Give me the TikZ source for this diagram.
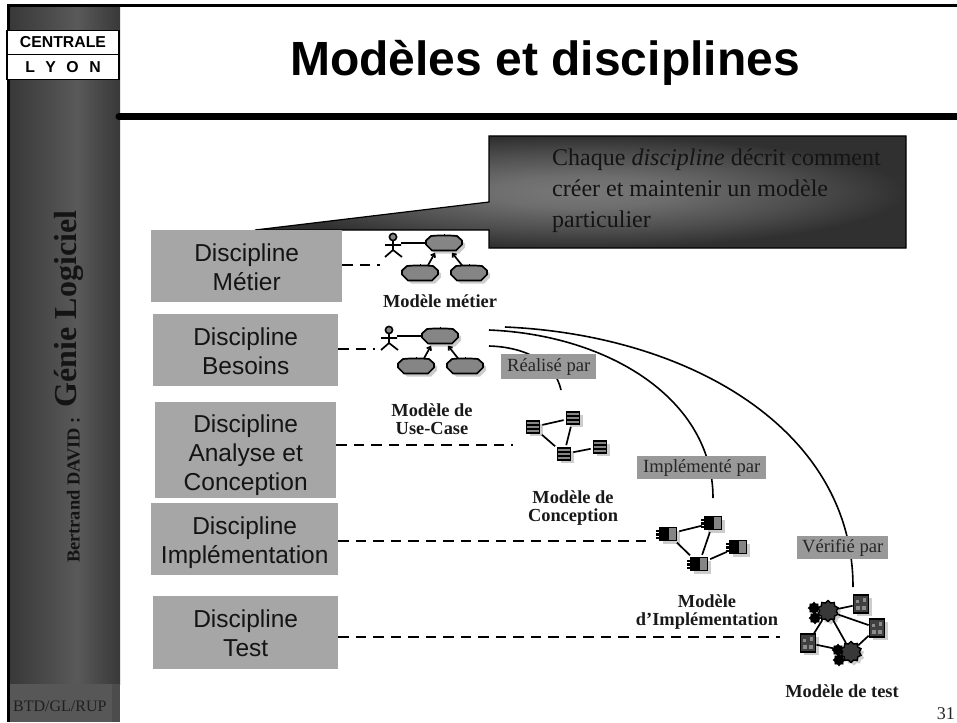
\documentclass[tikz,border=0pt]{standalone}
\usepackage{fontspec}
\setmainfont{Liberation Serif}
\setsansfont{Liberation Sans}
\usetikzlibrary{shapes.misc,shapes.geometric,shadows,calc,arrows.meta}
\definecolor{boxgrey}{HTML}{A6A6A6}
\definecolor{labgrey}{HTML}{999999}
\definecolor{icongrey}{HTML}{858585}
\definecolor{shadowgrey}{HTML}{CCCCCC}
\definecolor{calla}{HTML}{787878}
\definecolor{callb}{HTML}{6E6E6E}
\definecolor{callc}{HTML}{4E4E4E}
\definecolor{calld}{HTML}{303030}
\pgfdeclareradialshading{callshade}{\pgfpoint{0bp}{0bp}}{color(0bp)=(calla); color(7bp)=(callb); color(17bp)=(callc); color(25bp)=(calld); color(50bp)=(calld)}
\tikzset{
  disc/.style={fill=boxgrey,inner sep=0pt,align=center,font=\sffamily\fontsize{24.5}{29}\selectfont,anchor=north west,text=black!92},
  modlab/.style={font=\bfseries\fontsize{18.4}{18}\selectfont,align=center,inner sep=0pt,text=black!90},
  tag/.style={fill=labgrey,inner sep=0pt,font=\fontsize{18.6}{20}\selectfont,text=black!85,anchor=north west},
  dashl/.style={line width=1.6pt,dash pattern=on 10.5pt off 7pt},
  curvel/.style={line width=1.6pt},
  iconl/.style={line width=1.7pt},
  sh/.style={drop shadow={shadow xshift=3pt,shadow yshift=-3pt,fill=shadowgrey,opacity=1}},
  cloudn/.style={inner sep=0pt,minimum width=36pt,minimum height=15pt},
  classn/.style={rectangle,draw=black,line width=1.8pt,fill=icongrey,minimum width=13pt,minimum height=12pt,inner sep=0pt,sh,
    path picture={\draw[line width=1.8pt] ([yshift=2pt]path picture bounding box.west)--([yshift=2pt]path picture bounding box.east) ([yshift=-2pt]path picture bounding box.west)--([yshift=-2pt]path picture bounding box.east);}},
  compn/.style={rectangle,draw=black,line width=1.6pt,fill=icongrey,minimum width=17pt,minimum height=13pt,inner sep=0pt,sh,
    path picture={\fill[black] (path picture bounding box.south west) rectangle ([xshift=9pt]path picture bounding box.north west);},
    append after command={\pgfextra{\fill[black] ($(\tikzlastnode.west)+(-3,-4.5)$) rectangle ($(\tikzlastnode.west)+(1,-2)$);\fill[black] ($(\tikzlastnode.west)+(-3,-1)$) rectangle ($(\tikzlastnode.west)+(1,1.5)$);\fill[black] ($(\tikzlastnode.west)+(-3,2.5)$) rectangle ($(\tikzlastnode.west)+(1,5)$);}}},
  filen/.style={rectangle,draw=black,line width=1.8pt,fill=black!75,minimum width=15pt,minimum height=18pt,inner sep=0pt,sh,
    path picture={\fill[black!45] ([shift={(2pt,-3pt)}]path picture bounding box.north) rectangle ([shift={(5pt,-7pt)}]path picture bounding box.north);\fill[black!45] ([shift={(-5pt,-5pt)}]path picture bounding box.north) rectangle ([shift={(-2pt,-8pt)}]path picture bounding box.north);\fill[black!45] ([shift={(-5pt,-2pt)}]path picture bounding box.center) rectangle ([shift={(-1pt,-6pt)}]path picture bounding box.center);\fill[black!45] ([shift={(1pt,-2pt)}]path picture bounding box.center) rectangle ([shift={(5pt,-6pt)}]path picture bounding box.center);}},
  gearb/.style={star,star points=10,star point ratio=1.25,draw=black,line width=1.4pt,fill=black!78,minimum size=21pt,inner sep=0pt,sh},
  gears/.style={star,star points=8,star point ratio=1.35,draw=black,fill=black,minimum size=12pt,inner sep=0pt},
}
\newcommand{\cloudoutline}{(-18,-2.5) -- (-13,-7) -- (-6,-7.5) -- (6,-7.5) -- (13,-7) -- (18,-2.5) -- (18,1.5) -- (12,7.5) -- (-12,7.5) -- (-18,1.5) -- cycle}
\newcommand{\ucloud}[2]{%
  \node[cloudn] (#1) at (#2) {};
  \begin{scope}[shift={(#2)}]
    \fill[shadowgrey,shift={(3,3)}] \cloudoutline;
    \draw[line width=1.7pt,fill=icongrey,line join=miter] \cloudoutline;
    \draw[line width=1pt] (0,-9.5) -- (0,-7);
  \end{scope}}
\begin{document}
\begin{tikzpicture}[x=1pt,y=-1pt]
\useasboundingbox (0,0) rectangle (957,722);
% frame and side band
\shade[left color=black!78,right color=black!65] (10,7) rectangle (77,684);
\shade[left color=black!65,right color=black!78] (77,7) rectangle (120,684);
\fill[black!66] (10,684) rectangle (112,722);
\fill[black!70] (112,684) rectangle (120,722);
\fill[black] (7,4) rectangle (10,722);
\fill[black] (7,4) rectangle (957,7);
\draw[line width=7pt,line cap=round] (119,116.5) -- (957,116.5);
% logo
\node[draw=black,line width=1.5pt,fill=white,minimum width=112pt,minimum height=24pt,inner sep=0pt,font=\sffamily\bfseries\fontsize{15.8}{16}\selectfont] (logoa) at (63,42.5) {CENTRALE};
\node[draw=black,line width=1.5pt,fill=white,minimum width=112pt,minimum height=25pt,inner sep=0pt,font=\sffamily\bfseries\fontsize{15.8}{16}\selectfont] (logob) at (63,67) {L\hspace{10.5pt}Y\hspace{10.5pt}O\hspace{10.5pt}N};
% side text
\node[rotate=90,inner sep=0pt,font=\bfseries\fontsize{32}{34}\selectfont,text=black!92] (gl) at (69,309) {Génie Logiciel};
\node[rotate=90,inner sep=0pt,font=\bfseries\fontsize{18.4}{20}\selectfont,text=black!92,anchor=center] (bd) at (73.5,490) {Bertrand DAVID :};
\node[inner sep=0pt,anchor=west,font=\fontsize{16}{18}\selectfont,text=black!88] (btd) at (13,706) {BTD/GL/RUP};
\node[inner sep=0pt,anchor=base east,font=\fontsize{18}{20}\selectfont,text=black!85] (pg) at (955,719) {31};
% title
\node[inner sep=0pt,font=\sffamily\bfseries\fontsize{48}{52}\selectfont] (title) at (545,63) {Modèles et disciplines};
% callout
\path[draw=black,line width=1.2pt,shading=callshade]
 (489,136) -- (906,136) -- (906,248) -- (489,248) -- (489,230) -- (255,230) -- (489,202) -- cycle;
\node[inner sep=0pt,anchor=north west,align=left,font=\fontsize{24}{31}\selectfont,text=black!92] (co) at (552,148.5) {Chaque \textit{discipline} décrit comment\\créer et maintenir un modèle\\particulier};
% discipline boxes
\node[disc,minimum width=191pt,minimum height=72pt] (m) at (151,230) {\rule{0pt}{19.5pt}Discipline\\Métier};
\node[disc,minimum width=185pt,minimum height=72pt] (b) at (153,314) {\rule{0pt}{19.5pt}Discipline\\Besoins};
\node[disc,minimum width=181pt,minimum height=96pt] (a) at (155,402) {\rule{0pt}{27pt}Discipline\\Analyse et\\Conception};
\node[disc,minimum width=187pt,minimum height=72pt] (i) at (151,503) {\rule{0pt}{24pt}Discipline\\Implémentation};
\node[disc,minimum width=185pt,minimum height=73pt] (t) at (153,596) {\rule{0pt}{19.5pt}Discipline\\Test};
% end points of the dashed lines
\coordinate (dm) at (380,265);
\coordinate (db) at (375,349);
\coordinate (da) at (513,445);
\coordinate (di) at (650,541);
\coordinate (dt) at (780,637);
\draw[dashl] (m.east |- dm) -- (dm);
\draw[dashl] (b.east |- db) -- (db);
\draw[dashl] (a.east |- da) -- (da);
\draw[dashl] (i.east |- di) -- (di);
\draw[dashl] (t.east |- dt) -- (dt);
% use case models
\foreach \pfx/\dx/\dy in {p/0/0,q/-4/93}{
 \begin{scope}[shift={(\dx,\dy)}]
  \ucloud{\pfx c}{444,243}
  \ucloud{\pfx l}{420,273}
  \ucloud{\pfx r}{469,273}
  \draw[line width=1.6pt,fill=icongrey] (393,237) circle (3.6pt);
  \draw[iconl] (393,241) -- (393,250) (385,245) -- (401,245) (393,250) -- (385,257) (393,250) -- (402,257);
  \coordinate (\pfx a) at (401,243);
  \draw[iconl] (\pfx a) -- (\pfx c.west);
  \draw[iconl,-{Straight Barb[length=3pt,width=5pt]}] ($(\pfx l.north)+(8,0)$) -- ($(\pfx c.south)+(-9,2)$);
  \draw[iconl,-{Straight Barb[length=3pt,width=5pt]}] ($(\pfx r.north)+(-7,0)$) -- ($(\pfx c.south)+(8,2)$);
 \end{scope}
}
\node[modlab] (lm) at (440,301.5) {Modèle métier};
\node[modlab] (lu) at (432,419) {Modèle de\\Use-Case};
% classes
\node[classn] (c1) at (533,427) {};
\node[classn] (c2) at (573,418) {};
\node[classn] (c3) at (564,454) {};
\node[classn] (c4) at (600,447) {};
\draw[iconl,shorten >=2pt,shorten <=2pt] (c1) -- (c2);
\draw[iconl,shorten >=2pt,shorten <=2pt] (c2) -- (c3);
\draw[iconl,shorten >=2pt,shorten <=2pt] (c1) -- (c3);
\draw[iconl,shorten >=2pt,shorten <=2pt] (c3) -- (c4);
\node[modlab] (lc) at (573,508) {Modèle de\\Conception};
% components
\node[compn] (d1) at (668,534) {};
\node[compn] (d2) at (713,523) {};
\node[compn] (d3) at (699,564) {};
\node[compn] (d4) at (738,547) {};
\draw[iconl,shorten >=2pt,shorten <=2pt] (d1) -- (d2);
\draw[iconl,shorten >=2pt,shorten <=2pt] (d2) -- (d3);
\draw[iconl,shorten >=2pt,shorten <=2pt] (d1) -- (d3);
\draw[iconl,shorten >=2pt,shorten <=2pt] (d3) -- (d4);
\node[modlab] (li) at (707,612) {Modèle\\d’Implémentation};
% test model
\node[gears] (g1s) at (814,608) {};
\node[gears] (g1t) at (815,618) {};
\node[gearb] (g1) at (828,611) {};
\node[filen] (f1) at (861,604) {};
\node[filen] (f2) at (877,628) {};
\node[filen] (f3) at (808,643) {};
\node[gears] (g2s) at (838,650) {};
\node[gears] (g2t) at (839,660) {};
\node[gearb] (g2) at (851,652) {};
\draw[iconl] (g1) -- (f1);
\draw[iconl] (g1) -- (f2);
\draw[iconl] (g1) -- (f3);
\draw[iconl] (g1) -- (g2);
\draw[iconl] (f3) -- (g2);
\draw[iconl] (g2) -- (f2);
\node[modlab] (lt) at (842,691.5) {Modèle de test};
% curves
\coordinate (s1) at (489,346);
\coordinate (e1) at (561,390);
\coordinate (s2) at (489,330);
\coordinate (e2) at (713,498);
\coordinate (s3) at (505,327);
\coordinate (e3) at (853,587);
\draw[curvel] (s1) .. controls (525,347) and (555,362) .. (e1);
\draw[curvel] (s2) .. controls (610,335) and (713,400) .. (e2);
\draw[curvel] (s3) .. controls (690,335) and (853,430) .. (e3);
% labels on the curves
\node[tag,minimum width=95pt,minimum height=25pt] (r) at (501,354) {Réalisé par};
\node[tag,minimum width=129pt,minimum height=23pt] (im) at (637,456) {Implémenté par};
\node[tag,minimum width=91pt,minimum height=23pt] (v) at (797,536) {Vérifié par};
\end{tikzpicture}
\end{document}
